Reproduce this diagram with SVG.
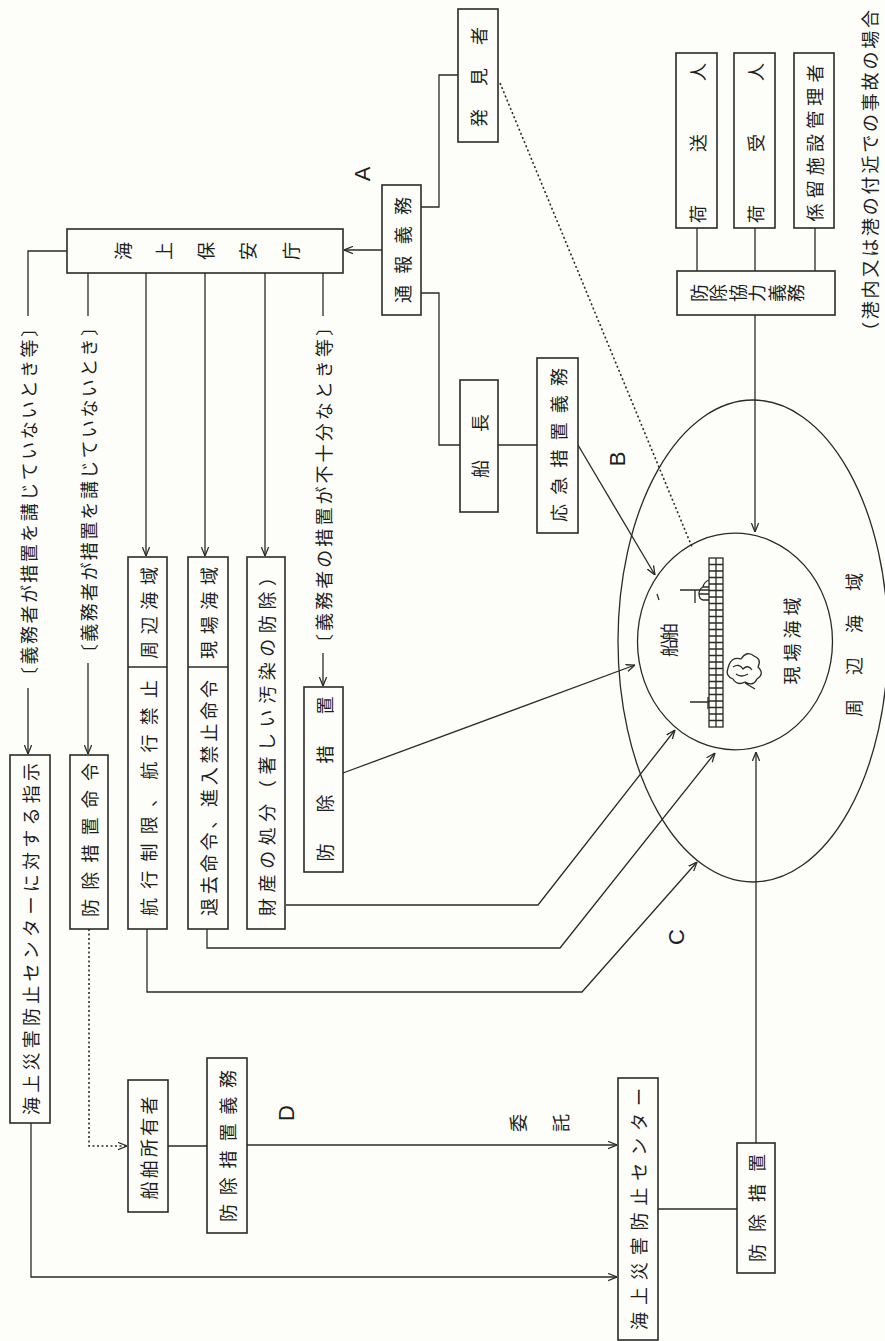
<svg xmlns="http://www.w3.org/2000/svg" width="885" height="1341" viewBox="0 0 885 1341">
<defs>
<style>
.box{fill:#fdfdf9;stroke:#2a2a2a;stroke-width:1.6}
.ln{fill:none;stroke:#2a2a2a;stroke-width:1.3}
.dot{fill:none;stroke:#2a2a2a;stroke-width:1.6;stroke-dasharray:2 2.5}
.arr{marker-end:url(#ah)}
text{font-family:"Noto Sans CJK JP","Noto Sans",sans-serif;fill:#1e1e1e;text-anchor:middle;dominant-baseline:central;font-size:18px}
.lat{font-family:"Liberation Sans",Arial,sans-serif;font-size:22px}
</style>
<marker id="ah" viewBox="0 0 10 10" refX="10" refY="5" markerWidth="9" markerHeight="9" markerUnits="userSpaceOnUse" orient="auto">
<path d="M0,1 L10,5 L0,9" fill="none" stroke="#2a2a2a" stroke-width="1.4"/>
</marker>
</defs>
<rect x="0" y="0" width="885" height="1341" fill="#fdfdf9"/>

<g id="connectors">
<path class="ln" d="M67,251 H28 V316"/>
<path class="ln arr" d="M28,688 V754"/>
<path class="ln" d="M88,273 V316"/>
<path class="ln arr" d="M88,663 V754"/>
<path class="ln arr" d="M146,273 V556"/>
<path class="ln arr" d="M205,273 V556"/>
<path class="ln arr" d="M265,273 V556"/>
<path class="ln" d="M323,273 V316"/>
<path class="ln arr" d="M323,653 V686"/>
<path class="ln arr" d="M382,250 H344"/>
<path class="ln" d="M421,207 H439 V75 H458"/>
<path class="ln" d="M421,293 H439 V445 H460"/>
<path class="ln" d="M498,445 H537"/>
<path class="ln arr" d="M578,445 L655,575"/>
<path class="dot" d="M500,83 L692,547"/>
<path class="ln" d="M697,228 V271 M755,228 V271 M815,228 V271"/>
<path class="ln arr" d="M755,315 V532"/>
<path class="ln arr" d="M343,773 L635,665"/>
<path class="ln arr" d="M286,905 H538 L675,730"/>
<path class="ln arr" d="M207,929 V948 H560 L715,753"/>
<path class="ln arr" d="M147,929 V992 H582 L697,862"/>
<path class="dot arr" d="M89,929 V1146 H127"/>
<path class="ln" d="M168,1146 H207"/>
<path class="ln arr" d="M247,1145 H617"/>
<path class="ln arr" d="M31,1123 V1277 H617"/>
<path class="ln" d="M658,1209 H737"/>
<path class="ln arr" d="M756,1143 V752"/>
</g>

<g id="sea-outer">
<ellipse cx="753" cy="641" rx="135" ry="241" class="ln"/>
<text transform="translate(853,645) rotate(-90)" textLength="144" lengthAdjust="spacing" font-size="19">周辺海域</text>
</g>
<g id="sea-inner">
<ellipse cx="735" cy="641.5" rx="97.5" ry="108.3" class="ln" stroke-width="1.6"/>
<rect x="709" y="558" width="14" height="169" class="ln"/>
<path class="ln" stroke-width="1" d="M716,558 V727 M709,564.5 h14 M709,571 h14 M709,577.5 h14 M709,584 h14 M709,590.5 h14 M709,597 h14 M709,603.5 h14 M709,610 h14 M709,616.5 h14 M709,623 h14 M709,629.5 h14 M709,636 h14 M709,642.5 h14 M709,649 h14 M709,655.5 h14 M709,662 h14 M709,668.5 h14 M709,675 h14 M709,681.5 h14 M709,688 h14 M709,694.5 h14 M709,701 h14 M709,707.5 h14 M709,714 h14 M709,720.5 h14"/>
<path class="ln" stroke-width="1" d="M709,580 q-5,2 -6,7 q-4,2 -4,7 q0,5 4,6 l6,0 M703,587 h6 M699,594 h10"/>
<path class="ln" d="M680,590 H709 M695,590 V603 M690,702 H709 M708,697 V709"/>
<path class="ln" d="M657,594 L659,600"/>
<path class="ln" stroke-width="1.2" d="M728,668 q3,-12 13,-9 q6,-9 13,-3 q8,3 4,11 q7,7 -1,12 q-4,8 -12,3 q-8,4 -12,-3 q-8,-3 -5,-11 z M733,667 q6,-4 10,2 q5,-5 9,1 M736,674 q5,4 12,0 M745,683 l10,6"/>
<text transform="translate(668,640) rotate(-90)" textLength="34" lengthAdjust="spacing" font-size="14">船舶</text>
<text transform="translate(791,641) rotate(-90)" textLength="87" lengthAdjust="spacing" font-size="17">現場海域</text>
</g>

<g id="n-hoan">
<rect x="67" y="229" width="276" height="44" class="box"/>
<text transform="translate(122,251) rotate(-90)">海</text>
<text transform="translate(163,251) rotate(-90)">上</text>
<text transform="translate(205,251) rotate(-90)">保</text>
<text transform="translate(247,251) rotate(-90)">安</text>
<text transform="translate(290,251) rotate(-90)">庁</text>
</g>

<g id="lbl-cond1"><text transform="translate(28,502) rotate(-90)" textLength="366" lengthAdjust="spacing">〔義務者が措置を講じていないとき等〕</text></g>
<g id="lbl-cond2"><text transform="translate(88,490) rotate(-90)" textLength="344" lengthAdjust="spacing">〔義務者が措置を講じていないとき〕</text></g>
<g id="lbl-cond3"><text transform="translate(323,485) rotate(-90)" textLength="334" lengthAdjust="spacing">〔義務者の措置が不十分なとき等〕</text></g>

<g id="n-shiji">
<rect x="10" y="755" width="40" height="368" class="box"/>
<text transform="translate(30,939) rotate(-90)" textLength="352" lengthAdjust="spacing" font-size="19">海上災害防止センターに対する指示</text>
</g>
<g id="n-meirei">
<rect x="70" y="755" width="38" height="174" class="box"/>
<text transform="translate(89,840) rotate(-90)" textLength="154" lengthAdjust="spacing" font-size="17">防除措置命令</text>
</g>
<g id="n-kouko">
<rect x="128" y="557" width="39" height="372" class="box"/>
<path class="ln" d="M128,667 H167"/>
<text transform="translate(147.5,613) rotate(-90)" textLength="92" lengthAdjust="spacing" font-size="19">周辺海域</text>
<text transform="translate(147.5,798) rotate(-90)" textLength="236" lengthAdjust="spacing">航行制限、航行禁止</text>
</g>
<g id="n-taikyo">
<rect x="188" y="557" width="40" height="372" class="box"/>
<path class="ln" d="M188,667 H228"/>
<text transform="translate(208,613) rotate(-90)" textLength="92" lengthAdjust="spacing" font-size="19">現場海域</text>
<text transform="translate(208,798) rotate(-90)" textLength="236" lengthAdjust="spacing">退去命令、進入禁止命令</text>
</g>
<g id="n-zaisan">
<rect x="247" y="557" width="38" height="372" class="box"/>
<text transform="translate(266,742) rotate(-90)" textLength="348" lengthAdjust="spacing">財産の処分（著しい汚染の防除）</text>
</g>
<g id="n-bojo1">
<rect x="304" y="687" width="39" height="185" class="box"/>
<text transform="translate(323.5,779) rotate(-90)" textLength="165" lengthAdjust="spacing">防除措置</text>
</g>
<g id="n-tsuho">
<rect x="382" y="185" width="39" height="130" class="box"/>
<text transform="translate(401.5,250) rotate(-90)" textLength="106" lengthAdjust="spacing">通報義務</text>
</g>
<g id="n-hakken">
<rect x="458" y="9" width="40" height="133" class="box"/>
<text transform="translate(478,77) rotate(-90)" textLength="100" lengthAdjust="spacing">発見者</text>
</g>
<g id="n-sencho">
<rect x="460" y="380" width="38" height="132" class="box"/>
<text transform="translate(479,446) rotate(-90)" textLength="64" lengthAdjust="spacing">船長</text>
</g>
<g id="n-okyu">
<rect x="537" y="358" width="41" height="175" class="box"/>
<text transform="translate(557.5,445) rotate(-90)" textLength="154" lengthAdjust="spacing">応急措置義務</text>
</g>
<g id="n-nioku">
<rect x="676" y="53" width="41" height="175" class="box"/>
<text transform="translate(696.5,143) rotate(-90)" textLength="160" lengthAdjust="spacing">荷送人</text>
</g>
<g id="n-niuke">
<rect x="734" y="53" width="41" height="175" class="box"/>
<text transform="translate(754.5,143) rotate(-90)" textLength="160" lengthAdjust="spacing">荷受人</text>
</g>
<g id="n-keiryu">
<rect x="794" y="53" width="40" height="175" class="box"/>
<text transform="translate(814,143) rotate(-90)" textLength="157" lengthAdjust="spacing">係留施設管理者</text>
</g>
<g id="n-kyoryoku">
<rect x="677" y="271" width="158" height="44" class="box"/>
<text transform="translate(698,293) rotate(-90)">防</text>
<text transform="translate(717,293) rotate(-90)">除</text>
<text transform="translate(737,293) rotate(-90)">協</text>
<text transform="translate(756,293) rotate(-90)">力</text>
<text transform="translate(776,293) rotate(-90)">義</text>
<text transform="translate(795,293) rotate(-90)">務</text>
</g>
<g id="note"><text transform="translate(869,175) rotate(-90)" textLength="330" lengthAdjust="spacing" font-size="19">（港内又は港の付近での事故の場合</text></g>
<g id="n-shoyu">
<rect x="128" y="1080" width="40" height="132" class="box"/>
<text transform="translate(148,1148) rotate(-90)" textLength="103" lengthAdjust="spacing">船舶所有者</text>
</g>
<g id="n-gimu">
<rect x="207" y="1058" width="40" height="175" class="box"/>
<text transform="translate(227,1146) rotate(-90)" textLength="152" lengthAdjust="spacing">防除措置義務</text>
</g>
<g id="lbl-itaku">
<text transform="translate(517,1123) rotate(-90)">委</text>
<text transform="translate(560,1123) rotate(-90)">託</text>
</g>
<g id="n-center">
<rect x="618" y="1078" width="40" height="262" class="box"/>
<text transform="translate(638,1209) rotate(-90)" textLength="242" lengthAdjust="spacing">海上災害防止センター</text>
</g>
<g id="n-bojo2">
<rect x="737" y="1143" width="38" height="130" class="box"/>
<text transform="translate(756,1208) rotate(-90)" textLength="108" lengthAdjust="spacing">防除措置</text>
</g>
<g id="letters">
<text class="lat" transform="translate(362,174) rotate(-90)">A</text>
<text class="lat" transform="translate(617,459) rotate(-90)">B</text>
<text class="lat" transform="translate(676,937) rotate(-90)">C</text>
<text class="lat" transform="translate(286,1113) rotate(-90)">D</text>
</g>
</svg>
